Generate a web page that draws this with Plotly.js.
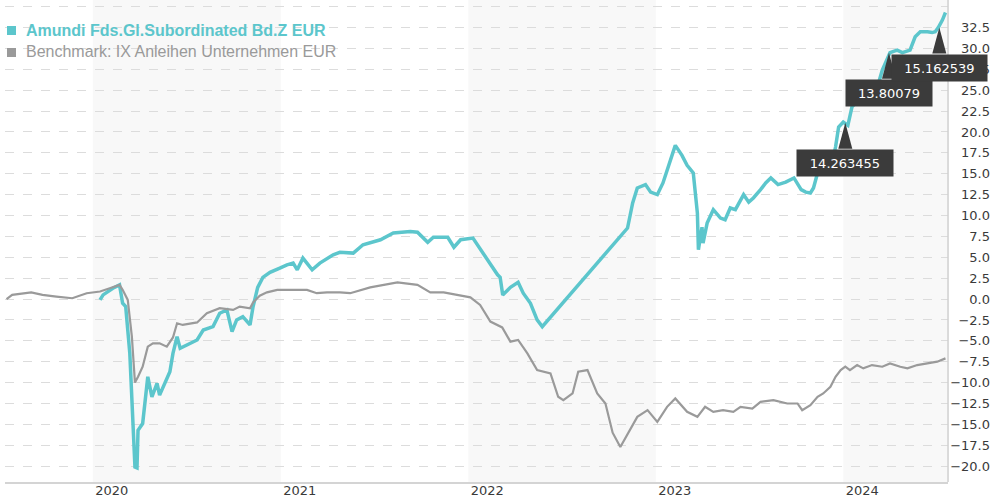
<!DOCTYPE html>
<html>
<head>
<meta charset="utf-8">
<script src="https://cdn.plot.ly/plotly-3.0.1.min.js"></script>
<style>html,body{margin:0;padding:0;background:#fff;}#chart{width:990px;height:500px;}</style>
</head>
<body>
<div id="chart"></div>
<script>
// ---- data ----
const fundName = "Amundi Fds.Gl.Subordinated Bd.Z EUR";
const benchName = "Benchmark: IX Anleihen Unternehmen EUR";

const fundDates = [
"2020-01-15","2020-01-21","2020-02-09","2020-02-22","2020-02-28","2020-03-05","2020-03-13","2020-03-19","2020-03-23","2020-03-27",
"2020-03-29","2020-04-07","2020-04-15","2020-04-17","2020-04-25","2020-05-05","2020-05-10","2020-05-24","2020-05-30","2020-06-05",
"2020-06-13","2020-06-19","2020-07-08","2020-07-22","2020-08-03","2020-08-22","2020-09-04","2020-09-18","2020-09-28","2020-10-07",
"2020-10-19","2020-11-02","2020-11-08","2020-11-17","2020-11-27","2020-12-11","2020-12-30","2021-01-13","2021-01-25","2021-02-02",
"2021-02-13","2021-03-03","2021-03-18","2021-04-13","2021-04-26","2021-05-22","2021-06-10","2021-07-14","2021-08-08","2021-09-10",
"2021-09-24","2021-10-14","2021-10-25","2021-11-22","2021-12-04","2021-12-17","2022-01-10","2022-01-29","2022-02-13","2022-02-27",
"2022-03-04","2022-03-09","2022-03-24","2022-04-08","2022-04-18","2022-05-02","2022-05-15","2022-05-25","2022-11-07","2022-11-17",
"2022-11-26","2022-12-12","2022-12-22","2023-01-04","2023-01-15","2023-01-25","2023-02-08","2023-02-21","2023-03-03","2023-03-15",
"2023-03-19","2023-03-23","2023-03-25","2023-04-01","2023-04-03","2023-04-11","2023-04-23","2023-05-07","2023-05-16","2023-05-26",
"2023-06-05","2023-06-21","2023-07-01","2023-07-10","2023-07-24","2023-08-03","2023-08-13","2023-08-27","2023-09-11","2023-09-27",
"2023-10-11","2023-10-20","2023-10-29","2023-11-04","2023-11-12","2023-11-23","2023-12-07","2023-12-17","2023-12-23","2024-01-01",
"2024-01-10","2024-01-18","2024-01-30","2024-02-16","2024-03-07","2024-03-17","2024-04-01","2024-04-15","2024-04-25","2024-05-10",
"2024-05-20","2024-05-30","2024-06-13","2024-06-22","2024-06-28","2024-07-04","2024-07-12","2024-07-18"
];
const fundValues = [
-0.1,0.5,1.3,1.7,-0.5,-0.9,-6.5,-14.5,-20.1,-20.2,
-15.7,-14.9,-10.9,-9.3,-11.7,-10.1,-11.5,-9.7,-8.7,-6.5,
-4.5,-5.9,-5.3,-4.9,-3.7,-3.3,-1.7,-1.3,-3.9,-2.5,
-2.1,-3.1,-0.9,1.4,2.6,3.2,3.7,4.1,4.3,3.5,
4.9,3.5,4.3,5.3,5.6,5.5,6.5,7.1,7.9,8.1,
8.0,6.8,7.4,7.4,6.2,7.1,7.3,5.6,4.1,2.9,
2.6,0.5,1.4,2.0,0.7,-0.5,-2.5,-3.3,8.5,11.5,
13.3,13.7,12.8,12.5,13.9,15.7,18.4,17.2,16.0,15.1,
13.1,10.3,5.9,8.6,6.7,9.1,10.7,9.7,9.5,10.9,
10.7,12.5,11.6,12.1,13.1,13.9,14.5,13.7,14.0,14.5,
13.1,12.8,12.7,13.3,15.1,15.7,15.4,18.2,20.6,21.2,
20.8,23.0,23.8,25.0,25.3,27.4,29.5,29.8,29.5,29.8,
31.4,32.0,32.0,31.9,32.0,32.5,33.4,34.3
];

const benchDates = [
"2019-07-17","2019-07-28","2019-09-03","2019-09-25","2019-10-22","2019-11-22","2019-12-20","2020-01-15","2020-02-03","2020-02-22",
"2020-02-28","2020-03-09","2020-03-17","2020-03-23","2020-03-29","2020-04-07","2020-04-17","2020-04-27","2020-05-10","2020-05-24",
"2020-06-05","2020-06-13","2020-06-24","2020-07-22","2020-08-10","2020-09-04","2020-09-30","2020-10-13","2020-11-02","2020-11-08",
"2020-11-21","2020-12-05","2020-12-25","2021-01-25","2021-02-21","2021-03-12","2021-04-01","2021-04-26","2021-05-16","2021-06-24",
"2021-07-20","2021-08-16","2021-09-24","2021-10-19","2021-11-14","2021-12-11","2022-01-05","2022-01-24","2022-02-13","2022-03-08",
"2022-03-24","2022-04-08","2022-04-26","2022-05-15","2022-06-10","2022-06-25","2022-07-05","2022-07-23","2022-08-03","2022-08-21",
"2022-09-09","2022-09-25","2022-10-09","2022-10-24","2022-11-09","2022-11-26","2022-12-16","2023-01-04","2023-01-23","2023-02-08",
"2023-03-03","2023-03-23","2023-04-07","2023-04-23","2023-05-12","2023-06-01","2023-06-15","2023-07-08","2023-07-24","2023-08-18",
"2023-09-14","2023-10-04","2023-10-13","2023-10-29","2023-11-12","2023-11-23","2023-12-07","2023-12-17","2023-12-27","2024-01-05",
"2024-01-14","2024-01-28","2024-02-09","2024-02-26","2024-03-17","2024-04-01","2024-04-21","2024-05-05","2024-05-24","2024-06-13",
"2024-07-02","2024-07-18"
];
const benchValues = [
0.0,0.5,0.8,0.5,0.3,0.1,0.7,0.9,1.3,1.7,
1.1,-0.1,-4.5,-10.0,-9.3,-8.1,-5.7,-5.3,-5.3,-5.7,
-4.6,-2.9,-3.1,-2.8,-1.7,-1.1,-1.3,-0.9,-1.1,-0.4,
0.4,0.8,1.1,1.1,1.1,0.7,0.8,0.8,0.7,1.4,
1.7,2.0,1.7,0.8,0.8,0.5,0.2,-0.7,-2.7,-3.4,
-5.1,-4.9,-6.5,-8.5,-8.9,-11.7,-12.1,-11.3,-8.7,-8.5,
-11.3,-12.5,-16.0,-17.7,-16.0,-14.1,-13.3,-14.7,-12.9,-11.9,
-13.5,-14.1,-12.9,-13.5,-13.3,-13.5,-12.9,-13.1,-12.3,-12.1,
-12.5,-12.5,-13.3,-12.7,-11.7,-11.3,-10.5,-9.3,-8.5,-8.1,
-8.5,-7.9,-8.3,-7.9,-8.1,-7.7,-8.1,-8.3,-7.9,-7.7,
-7.5,-7.1
];

const yearTicks = ["2020-01-01","2021-01-01","2022-01-01","2023-01-01","2024-01-01"];
const yearLabels = ["2020","2021","2022","2023","2024"];
const shadedYears = [["2020-01-01","2021-01-01"],["2022-01-01","2023-01-01"],["2024-01-01","2024-07-23"]];
const yLabelVals = [-20,-17.5,-15,-12.5,-10,-7.5,-5,-2.5,0,2.5,5,7.5,10,12.5,15,17.5,20,22.5,25,27.5,30,32.5];

const calloutDates = ["2024-01-05","2024-03-30","2024-07-06"];
const calloutValues = [21.1,29.5,32.5];
const calloutTexts = ["14.263455","13.80079","15.162539"];

// ---- styles ----
const teal = "#5cc6cc";
const gray = "#9a9a9a";
const boxCol = "#3b3b3b";
const calloutWidths = [96, 86, 95];
const xRange = ["2019-07-14","2024-07-23"];
const yRange = [-21.9, 35.8];

const traces = [
  {x: fundDates, y: fundValues, type: "scatter", mode: "lines", name: fundName,
   line: {color: teal, width: 3.5}, hoverinfo: "x+y"},
  {x: benchDates, y: benchValues, type: "scatter", mode: "lines", name: benchName,
   line: {color: gray, width: 2.2}, hoverinfo: "x+y"}
];

const shapes = [];
shadedYears.forEach(function(b){
  shapes.push({type: "rect", xref: "x", yref: "y domain", x0: b[0], x1: b[1], y0: 0, y1: 1,
    fillcolor: "#f8f8f8", line: {width: 0}, layer: "below"});
});
// right border
shapes.push({type: "line", xref: "x domain", yref: "y domain", x0: 1, x1: 1, y0: 0, y1: 1,
  line: {color: "#d0d0d0", width: 1.5}, layer: "above"});
// legend squares
function px2x(p){ return (p - 5) / 985; }
function px2y(p){ return (482 - p) / 482; }
shapes.push({type: "rect", xref: "paper", yref: "paper", x0: px2x(7), x1: px2x(16), y0: px2y(35), y1: px2y(26),
  fillcolor: teal, line: {width: 0}});
shapes.push({type: "rect", xref: "paper", yref: "paper", x0: px2x(7), x1: px2x(16), y0: px2y(57), y1: px2y(48),
  fillcolor: gray, line: {width: 0}});
// callout pointers
calloutDates.forEach(function(d, i){
  shapes.push({type: "path", xref: "x", yref: "y", xsizemode: "pixel", ysizemode: "pixel",
    xanchor: d, yanchor: calloutValues[i], path: "M0,0 L-7,-26 L7,-26 Z",
    fillcolor: boxCol, line: {width: 0}, layer: "above"});
});

const annotations = [
  {xref: "paper", yref: "paper", x: px2x(24), y: px2y(30), xanchor: "left", yanchor: "middle", showarrow: false,
   text: "<b>" + fundName + "</b>", font: {family: "Liberation Sans, Arial, sans-serif", size: 16, color: teal}},
  {xref: "paper", yref: "paper", x: px2x(24), y: px2y(52), xanchor: "left", yanchor: "middle", showarrow: false,
   text: benchName, font: {family: "Liberation Sans, Arial, sans-serif", size: 16, color: gray}}
];
calloutDates.forEach(function(d, i){
  annotations.push({xref: "x", yref: "y", x: d, y: calloutValues[i], xanchor: "center", yanchor: "top",
    yshift: -26, showarrow: false, text: calloutTexts[i], width: calloutWidths[i], height: 26,
    bgcolor: boxCol, borderpad: 0, align: "center", valign: "middle",
    font: {family: "DejaVu Sans, Verdana, sans-serif", size: 13, color: "#ffffff"}});
});

const layout = {
  width: 990, height: 500,
  margin: {l: 5, r: 0, t: 0, b: 18, pad: 0},
  paper_bgcolor: "#ffffff", plot_bgcolor: "#ffffff",
  showlegend: false,
  xaxis: {
    type: "date", domain: [0, 0.9574], range: xRange,
    tickvals: yearTicks, ticktext: yearLabels, ticklabelshift: 19, ticklabelstandoff: -5,
    showgrid: false, zeroline: false, ticks: "",
    showline: true, linecolor: "#d4d4d4", linewidth: 2,
    tickfont: {family: "DejaVu Sans, Verdana, sans-serif", size: 13, color: "#3a3a3a"},
    fixedrange: true
  },
  yaxis: {
    range: yRange, tick0: 0, dtick: 2.5, showticklabels: false, ticks: "",
    showgrid: true, gridcolor: "#dcdcdc", griddash: "dash", gridwidth: 1,
    zeroline: false, showline: false, fixedrange: true
  },
  yaxis2: {
    range: yRange, overlaying: "y", anchor: "free", position: 1, side: "left",
    tickvals: yLabelVals, tickformat: ".1f", ticksuffix: "%", ticks: "",
    showgrid: false, zeroline: false, showline: false, ticklabelstandoff: 0,
    tickfont: {family: "DejaVu Sans, Verdana, sans-serif", size: 13, color: "#3a3a3a"},
    fixedrange: true
  },
  shapes: shapes,
  annotations: annotations
};

// invisible copy of the benchmark on y2 so the right-hand label axis is drawn
traces.push({x: benchDates, y: benchValues, type: "scatter", mode: "lines", yaxis: "y2",
  line: {width: 0}, opacity: 0, hoverinfo: "skip", showlegend: false});

Plotly.newPlot("chart", traces, layout, {displayModeBar: false, staticPlot: true});
</script>
</body>
</html>
